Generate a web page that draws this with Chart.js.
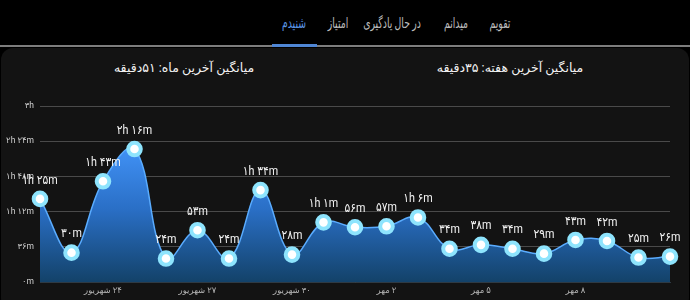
<!DOCTYPE html>
<html lang="fa">
<head>
<meta charset="utf-8">
<script src="https://cdn.jsdelivr.net/npm/chart.js@4.4.1/dist/chart.umd.min.js"></script>
<style>
  html, body { margin: 0; padding: 0; background: #000; }
  body { width: 690px; height: 300px; overflow: hidden; position: relative; font-family: Roboto, "DejaVu Sans", sans-serif; }
  .tab { position: absolute; top: 15px; transform: translateX(-50%) scaleX(0.64); font-size: 14.5px; color: #bdbdbd; white-space: nowrap; direction: rtl; }
  .tab.active { color: #5b95e6; }
  .rule { position: absolute; left: 0; top: 45px; width: 690px; height: 2px; background: #7d7d7d; }
  .underline { position: absolute; left: 272px; top: 44px; width: 45px; height: 3px; background: #4f86d4; }
  .card { position: absolute; left: 1px; top: 48px; width: 688px; height: 262px; background: #131313; border-radius: 12px; }
  .title { position: absolute; top: 60px; transform: translateX(-50%); font-size: 12.5px; color: #f2f2f2; white-space: nowrap; direction: rtl; }
  #chart { position: absolute; left: 0; top: 90px; }
</style>
</head>
<body>
<div class="card"></div>
<div class="tab" style="left:500px">تقویم</div>
<div class="tab" style="left:456px">میدانم</div>
<div class="tab" style="left:392px">در حال یادگیری</div>
<div class="tab" style="left:338px">امتیاز</div>
<div class="tab active" style="left:294px">شنیدم</div>
<div class="rule"></div>
<div class="underline"></div>
<div class="title" style="left:510px">میانگین آخرین هفته: ۳۵دقیقه</div>
<div class="title" style="left:184px">میانگین آخرین ماه: ۵۱دقیقه</div>
<canvas id="chart" width="690" height="210"></canvas>
<script>
// days (Shahrivar / Mehr), minutes listened per day
const days = [
  '۲۲ شهریور', '۲۳ شهریور', '۲۴ شهریور', '۲۵ شهریور', '۲۶ شهریور', '۲۷ شهریور', '۲۸ شهریور',
  '۲۹ شهریور', '۳۰ شهریور', '۳۱ شهریور', '۱ مهر', '۲ مهر', '۳ مهر', '۴ مهر',
  '۵ مهر', '۶ مهر', '۷ مهر', '۸ مهر', '۹ مهر', '۱۰ مهر', '۱۱ مهر'
];
const minutes = [85, 30, 103, 136, 24, 53, 24, 94, 28, 61, 56, 57, 66, 34, 38, 34, 29, 43, 42, 25, 26];
const yTicks = [0, 36, 72, 108, 144, 180];

const faDigits = s => String(s).replace(/\d/g, d => '۰۱۲۳۴۵۶۷۸۹'[d]);
function fmtDuration(total) {
  const h = Math.floor(total / 60);
  const m = total % 60;
  if (h === 0) return faDigits(m) + 'm';
  if (m === 0) return faDigits(h) + 'h';
  return faDigits(h) + 'h ' + faDigits(m) + 'm';
}

// draw the value above every point (slightly condensed)
const pointLabels = {
  id: 'pointLabels',
  afterDatasetsDraw(chart) {
    const ctx = chart.ctx;
    const meta = chart.getDatasetMeta(0);
    ctx.save();
    ctx.font = '12.5px Roboto, "DejaVu Sans"';
    ctx.fillStyle = '#f4f4f4';
    ctx.textAlign = 'center';
    ctx.textBaseline = 'middle';
    meta.data.forEach((pt, i) => {
      ctx.save();
      ctx.translate(pt.x, pt.y - 18.5);
      ctx.scale(0.86, 1);
      ctx.fillText(fmtDuration(minutes[i]), 0, 0);
      ctx.restore();
    });
    ctx.restore();
  }
};

const ctx = document.getElementById('chart').getContext('2d');
new Chart(ctx, {
  type: 'line',
  data: {
    labels: days,
    datasets: [{
      data: minutes,
      fill: 'origin',
      tension: 0.4,
      clip: false,
      borderColor: '#5aacff',
      borderWidth: 1.5,
      backgroundColor: (c) => {
        const area = c.chart.chartArea;
        if (!area) return '#2f7ad8';
        const g = c.chart.ctx.createLinearGradient(0, area.top + 30, 0, area.bottom);
        g.addColorStop(0, '#4598ff');
        g.addColorStop(0.5, '#2a6fc6');
        g.addColorStop(1, '#134269');
        return g;
      },
      pointRadius: 6.3,
      pointBorderWidth: 4,
      pointBackgroundColor: '#ffffff',
      pointBorderColor: '#8ee4fd',
      pointHoverRadius: 6.3
    }]
  },
  options: {
    responsive: false,
    animation: false,
    devicePixelRatio: 1,
    layout: { padding: { top: 16, right: 20, left: 0, bottom: 0 } },
    plugins: {
      legend: { display: false },
      tooltip: { enabled: false }
    },
    scales: {
      x: {
        offset: false,
        grid: { display: false, drawTicks: false },
        border: { display: true, color: '#2e3a44', width: 1 },
        afterFit: (scale) => { scale.height = 18; },
        ticks: {
          autoSkip: false,
          maxRotation: 0,
          padding: 4,
          color: '#b5b5b5',
          font: { family: 'Roboto, "DejaVu Sans"', size: 8.5 },
          // right-to-left embedding so the day number sits on the right
          callback: (v, i) => (i % 3 === 2 && i < 18) ? '\u202B' + days[i] + '\u202C' : ''
        }
      },
      y: {
        min: 0,
        max: 180,
        afterFit: (scale) => { scale.width = 40; },
        afterBuildTicks: (scale) => { scale.ticks = yTicks.map(v => ({ value: v })); },
        grid: { color: '#4a4a4a', lineWidth: 1, drawTicks: false },
        border: { display: false },
        ticks: {
          padding: 6,
          color: '#cfcfcf',
          font: { family: 'Roboto, "DejaVu Sans"', size: 8.5 },
          callback: (v) => fmtDuration(v)
        }
      }
    }
  },
  plugins: [pointLabels]
});
</script>
</body>
</html>
